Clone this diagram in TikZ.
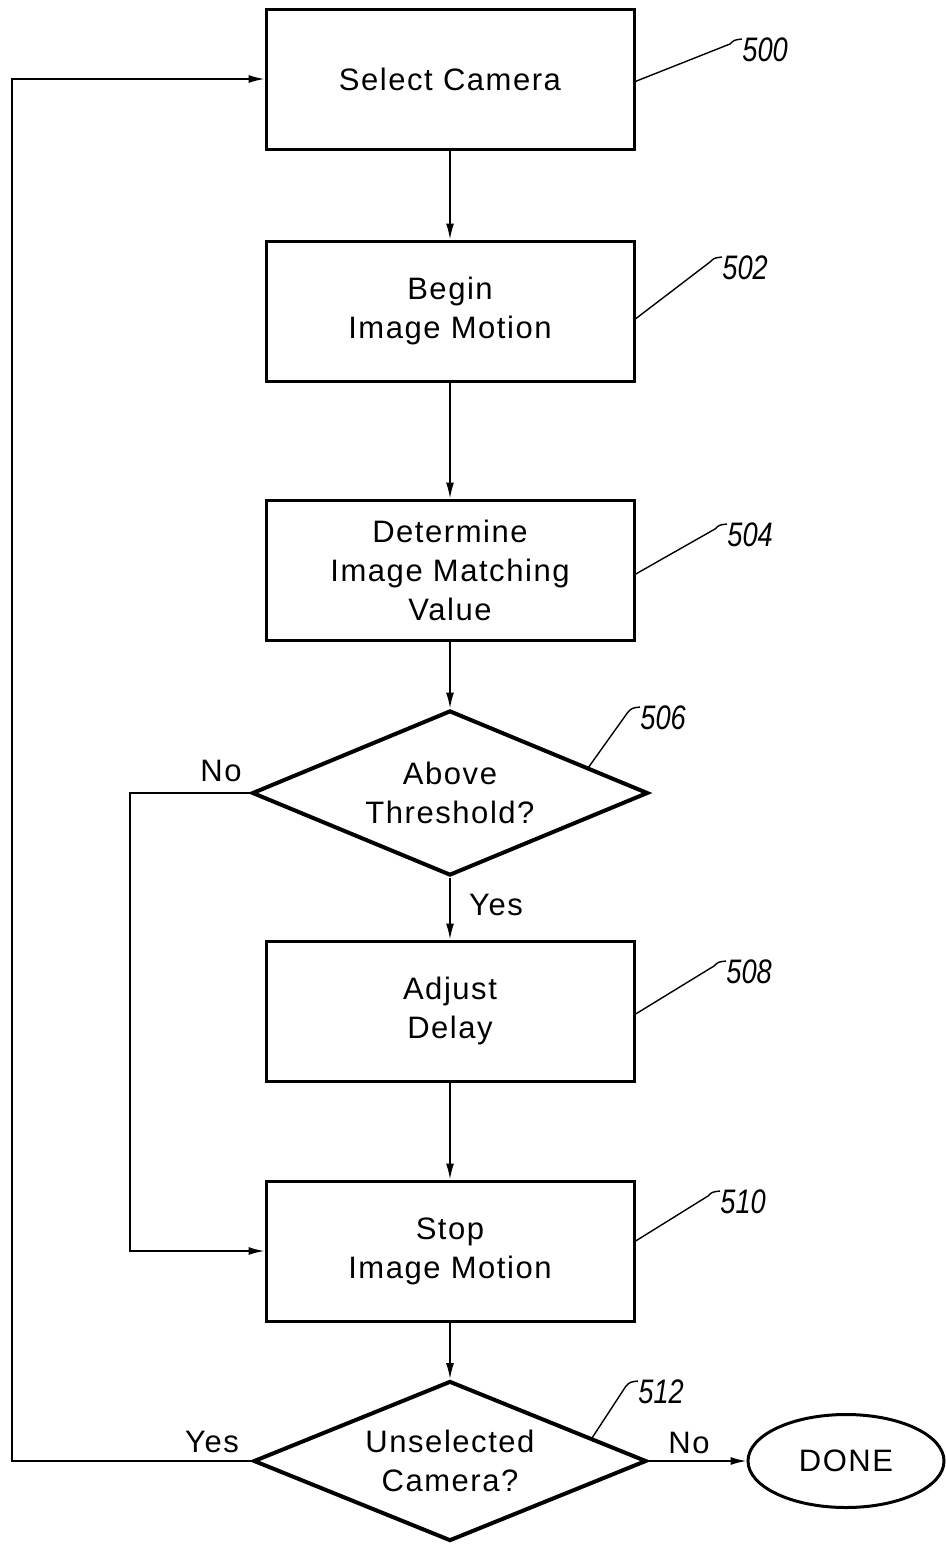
\documentclass[tikz,border=0pt]{standalone}
\usepackage{fontspec}
\setmainfont{Liberation Sans}[LetterSpace=5]
\newfontfamily\numfam{Liberation Sans}[FakeStretch=0.8]
\usetikzlibrary{shapes.geometric,arrows.meta,calc}
\newcommand\txt{\fontsize{15.5}{19.5}\selectfont}
\newcommand\numf{\numfam\itshape\fontsize{17}{20}\selectfont}
\begin{document}
\begin{tikzpicture}[x=0.5pt,y=-0.5pt,
  box/.style={draw,line width=1.5pt,minimum width=184pt,minimum height=70pt,align=center,inner sep=0pt,font=\txt},
  dec/.style={draw,diamond,shape aspect=2.4,line width=2pt,inner sep=0pt,align=center,font=\txt},
  conn/.style={line width=0.8pt,-{Latex[length=8pt,width=4pt]}},
  lead/.style={line width=0.7pt},
  num/.style={font=\numf,anchor=west,inner sep=0pt},
  lbl/.style={font=\txt,inner sep=0pt}]
\useasboundingbox (0,0) rectangle (946,1544);
% boxes
\node[box] (b500) at (450,79) {Select Camera};
\node[box] (b502) at (450,311) {Begin\\Image Motion};
\node[box] (b504) at (450,570) {Determine\\Image Matching\\Value};
\node[dec,minimum width=198pt,minimum height=82.5pt] (d506) at (450,793) {Above\\Threshold?};
\node[box] (b508) at (450,1011) {Adjust\\Delay};
\node[box] (b510) at (450,1251) {Stop\\Image Motion};
\node[dec,minimum width=196.5pt,minimum height=80pt] (d512) at (450,1461) {Unselected\\Camera?};
\node[draw,ellipse,line width=1.5pt,minimum width=98pt,minimum height=46.5pt,font=\txt] (done) at (846,1461) {DONE};
% connectors
\draw[conn] (b500.south) -- (b502.north);
\draw[conn] (b502.south) -- (b504.north);
\draw[conn] (b504.south) -- (d506.north);
\draw[conn] (d506.south) -- (b508.north);
\draw[conn] (b508.south) -- (b510.north);
\draw[conn] (b510.south) -- (d512.north);
\coordinate (c1) at (130,793);
\coordinate (c2) at (12,1461);
\draw[conn] (d506.west) -- (c1) |- (b510.west);
\draw[conn] (d512.west) -- (c2) |- (b500.west);
\draw[conn] (d512.east) -- (done.west);
% branch labels
\node[lbl] (no1) at (221,771) {No};
\node[lbl] (yes1) at (496,905) {Yes};
\node[lbl] (yes2) at (212,1442) {Yes};
\node[lbl] (no2) at (689,1443) {No};
% reference numbers
\foreach \n/\nx/\ny/\sx/\sy in {500/742/50/634/82, 502/722/268/634/320, 504/727/535/634/575, 506/640/718/588/768, 508/726/972/634/1015, 510/720/1202/634/1242, 512/638/1392/592/1438}{
  \node[num] (n\n) at (\nx,\ny) {\n};
  \coordinate (s\n) at (\sx,\sy);
  \draw[lead] (s\n) -- ($(\nx,\ny)+(-12,-6)$) .. controls ($(\nx,\ny)+(-8,-10)$) .. ($(\nx,\ny)+(0,-11)$);
}
\end{tikzpicture}
\end{document}
